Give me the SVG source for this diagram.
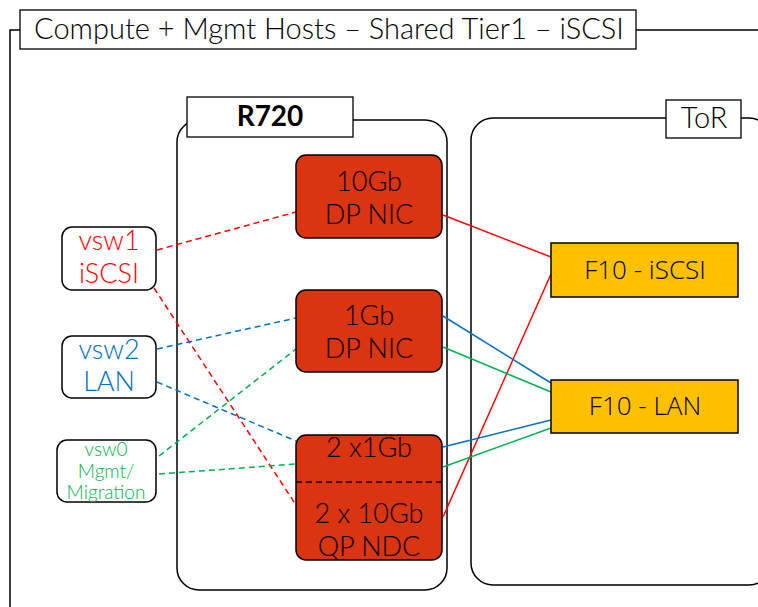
<svg xmlns="http://www.w3.org/2000/svg" width="758" height="607" viewBox="0 0 758 607">
<style>
text{font-family:Lato,"Open Sans","Liberation Sans",sans-serif;text-anchor:middle;font-weight:300}
.frame{fill:#fff;stroke:#000;stroke-width:1.5}
.lbl{fill:#fff;stroke:#000;stroke-width:1.3}
.nic{fill:#DA3410;stroke:#000;stroke-width:1.5}
.f10{fill:#FFC000;stroke:#000;stroke-width:1.5}
.vsw{fill:#fff;stroke:#000;stroke-width:1.5}
.t{font-size:27px;fill:#000}
.ft{font-family:"Open Sans","Noto Sans",sans-serif;font-size:26px;fill:#000;font-weight:300}
.dash{fill:none;stroke-width:1.5;stroke-dasharray:6 4}
.solid{fill:none;stroke-width:1.5}
.r{stroke:#FF0000}.b{stroke:#0070C0}.g{stroke:#00B050}
</style>
<g id="outer">
<path d="M20 30H10V607M636 30H758" fill="none" stroke="#000" stroke-width="1.5"/>
<rect class="lbl" x="20" y="10" width="616" height="39"/>
<text class="t" x="329" y="39" style="font-size:29px">Compute + Mgmt Hosts – Shared Tier1 – iSCSI</text>
</g>
<g id="r720">
<rect class="frame" x="177" y="120" width="270" height="470" rx="22"/>
<rect class="lbl" x="187" y="97" width="166" height="40"/>
<text class="t" x="270" y="126" style="font-weight:bold;font-size:28px">R720</text>
</g>
<g id="tor">
<rect class="frame" x="471" y="118" width="300" height="467" rx="22"/>
<rect class="lbl" x="666" y="100" width="75" height="38"/>
<text class="t" x="704" y="128" style="font-size:29px">ToR</text>
</g>
<g id="connectors">
<line class="dash r" x1="157" y1="250" x2="296" y2="212"/>
<line class="dash r" x1="154" y1="288" x2="296" y2="505"/>
<line class="dash b" x1="157" y1="349" x2="296" y2="318"/>
<line class="dash b" x1="157" y1="382" x2="296" y2="441"/>
<line class="dash g" x1="159" y1="456" x2="296" y2="349"/>
<line class="dash g" x1="159" y1="474" x2="296" y2="464"/>
<line class="solid r" x1="443" y1="215" x2="551" y2="257"/>
<line class="solid r" x1="443" y1="517" x2="551" y2="274"/>
<line class="solid b" x1="443" y1="316" x2="551" y2="383"/>
<line class="solid g" x1="443" y1="347" x2="551" y2="392"/>
<line class="solid b" x1="443" y1="447" x2="551" y2="420"/>
<line class="solid g" x1="443" y1="467" x2="551" y2="428"/>
</g>
<g id="nic10">
<rect class="nic" x="296" y="155" width="146" height="83" rx="10"/>
<text class="t" x="369" y="191">10Gb</text>
<text class="t" x="369" y="224">DP NIC</text>
</g>
<g id="nic1">
<rect class="nic" x="296" y="290" width="146" height="82" rx="10"/>
<text class="t" x="369" y="325">1Gb</text>
<text class="t" x="369" y="358">DP NIC</text>
</g>
<g id="ndc">
<rect class="nic" x="296" y="435" width="146" height="125" rx="10"/>
<line x1="296" y1="482" x2="442" y2="482" stroke="#000" stroke-width="1.5" stroke-dasharray="6 4"/>
<text class="t" x="369" y="457">2 x1Gb</text>
<text class="t" x="369" y="523">2 x 10Gb</text>
<text class="t" x="369" y="556">QP NDC</text>
</g>
<g id="vsw1">
<rect class="vsw" x="62" y="227" width="94" height="63" rx="10"/>
<text x="109" y="250" font-size="27" fill="#FF0000">vsw1</text>
<text x="109" y="283" font-size="27" fill="#FF0000">iSCSI</text>
</g>
<g id="vsw2">
<rect class="vsw" x="62" y="336" width="94" height="62" rx="10"/>
<text x="109" y="359" font-size="27" fill="#0070C0">vsw2</text>
<text x="109" y="391" font-size="27" fill="#0070C0">LAN</text>
</g>
<g id="vsw0">
<rect class="vsw" x="57" y="440" width="99" height="62" rx="10"/>
<text x="106" y="456" font-size="19" fill="#00B050">vsw0</text>
<text x="106" y="478" font-size="19" fill="#00B050">Mgmt/</text>
<text x="106" y="499" font-size="19" fill="#00B050">Migration</text>
</g>
<g id="f10iscsi">
<rect class="f10" x="551" y="243" width="187" height="54"/>
<text class="ft" x="645" y="279">F10 - iSCSI</text>
</g>
<g id="f10lan">
<rect class="f10" x="551" y="380" width="187" height="53"/>
<text class="ft" x="645" y="415">F10 - LAN</text>
</g>
</svg>
